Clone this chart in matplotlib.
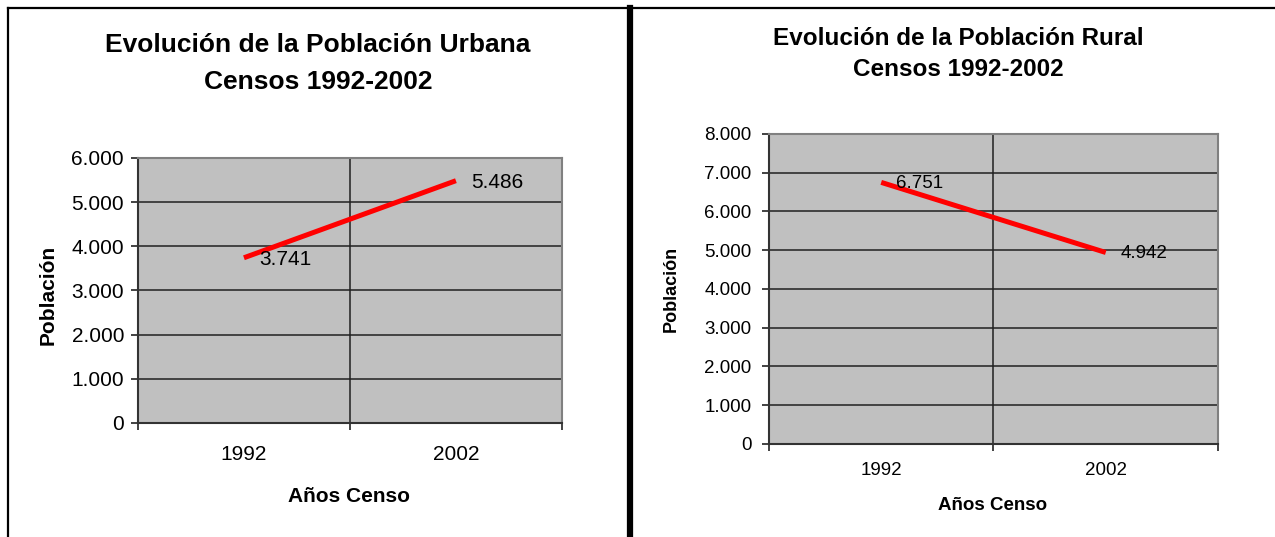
import matplotlib
matplotlib.use("Agg")
import matplotlib.pyplot as plt
from matplotlib.lines import Line2D
from matplotlib.ticker import FuncFormatter

# data
years = ["1992", "2002"]
urbana = [3741, 5486]
rural = [6751, 4942]

NARROW = ["Liberation Sans Narrow", "Liberation Sans", "DejaVu Sans"]
WIDE = ["Liberation Sans", "DejaVu Sans"]


def miles(v, pos=None):
    return "{:,.0f}".format(v).replace(",", ".")


def excel_axes(ax, values, ymax, family, fs_tick, fs_lab, tick_len, ypad, xpad):
    x = [1, 2]
    ax.set_facecolor("#c0c0c0")
    ax.plot(x, values, color="#ff0000", lw=3.6, solid_capstyle="butt", zorder=3)
    for xi, v in zip(x, values):
        ax.annotate(miles(v), (xi, v), xytext=(11, -1), textcoords="offset points",
                    ha="left", va="center", fontsize=fs_lab, family=family, color="black")
    ax.set_xlim(0.5, 2.5)
    ax.set_ylim(0, ymax)
    ax.set_yticks(range(0, ymax + 1, 1000))
    ax.yaxis.set_major_formatter(FuncFormatter(miles))
    ax.set_xticks([0.5, 1.5, 2.5])
    ax.set_xticklabels([])
    ax.set_xticks(x, years, minor=True)
    ax.tick_params(axis="x", which="minor", length=0, pad=xpad, labelsize=fs_tick)
    ax.tick_params(axis="x", which="major", length=tick_len, width=1.2, color="#222222")
    ax.tick_params(axis="y", length=tick_len, width=1.2, pad=ypad, labelsize=fs_tick, color="#222222")
    for lab in ax.get_xticklabels(minor=True) + ax.get_yticklabels():
        lab.set_family(family)
    ax.grid(True, axis="both", which="major", color="#202020", lw=1.1)
    ax.set_axisbelow(True)
    for side in ("top", "right"):
        ax.spines[side].set_color("#808080")
        ax.spines[side].set_linewidth(1.5)
    for side in ("left", "bottom"):
        ax.spines[side].set_color("#333333")
        ax.spines[side].set_linewidth(1.5)


fig = plt.figure(figsize=(12.75, 5.37), dpi=100)

# left chart: urban population
ax1 = fig.add_axes([0.1082, 0.2123, 0.3325, 0.4935])
excel_axes(ax1, urbana, 6000, NARROW, 15, 15, 5, 5, 16)
ax1.set_xlabel("Años Censo", fontsize=15, fontweight="bold", family=NARROW, va="center")
ax1.xaxis.set_label_coords(0.498, -0.279)
ax1.set_ylabel("Población", fontsize=15, fontweight="bold", family=WIDE, va="center", ha="center")
ax1.yaxis.set_label_coords(-0.212, 0.483)
fig.text(0.2494, 0.917, "Evolución de la Población Urbana", ha="center", va="center",
         fontsize=19, fontweight="bold", family=NARROW)
fig.text(0.2494, 0.847, "Censos 1992-2002", ha="center", va="center",
         fontsize=19, fontweight="bold", family=NARROW)

# right chart: rural population
ax2 = fig.add_axes([0.6031, 0.1732, 0.3522, 0.5773])
excel_axes(ax2, rural, 8000, WIDE, 13.5, 13.5, 5, 7.5, 13)
ax2.set_xlabel("Años Censo", fontsize=13.5, fontweight="bold", family=WIDE, va="center")
ax2.xaxis.set_label_coords(0.497, -0.197)
ax2.set_ylabel("Población", fontsize=13, fontweight="bold", family=WIDE, va="center", ha="center")
ax2.yaxis.set_label_coords(-0.218, 0.5)
fig.text(0.752, 0.929, "Evolución de la Población Rural", ha="center", va="center",
         fontsize=17.5, fontweight="bold", family=WIDE)
fig.text(0.752, 0.870, "Censos 1992-2002", ha="center", va="center",
         fontsize=17.5, fontweight="bold", family=WIDE)

# frame lines around the panels
fig.add_artist(Line2D([8 / 1275, 1.0], [1 - 8 / 537] * 2, color="black", lw=1.6))
fig.add_artist(Line2D([8 / 1275] * 2, [0, 1 - 8 / 537], color="black", lw=1.6))
fig.add_artist(Line2D([630 / 1275] * 2, [0, 1 - 8 / 537], color="black", lw=4.5))

fig.savefig("out.png", dpi=100)
